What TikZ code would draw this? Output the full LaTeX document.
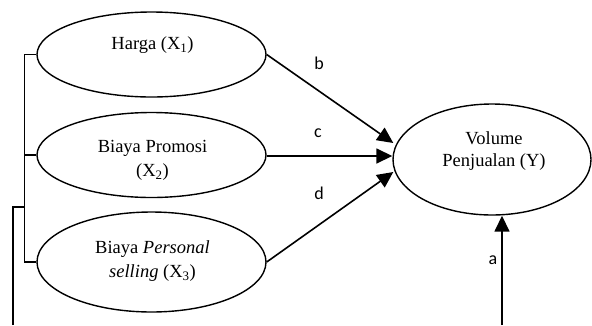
\documentclass[tikz,border=0pt]{standalone}
\usepackage{fontspec}
\setmainfont{Liberation Serif}
\newfontfamily\lblfont{Carlito}
\usetikzlibrary{shapes.geometric,arrows.meta,calc}
\begin{document}
\begin{tikzpicture}[x=1pt,y=-1pt,
  conn/.style={line width=1.6pt},
  var/.style={draw, ellipse, line width=1.4pt, inner sep=0pt, minimum width=229pt, minimum height=85pt},
  txt/.style={font=\fontsize{18.5}{24}\selectfont, align=center, inner sep=0pt},
  lbl/.style={font=\lblfont\fontsize{18}{20}\selectfont, inner sep=0pt},
  arr/.style={conn, -{Triangle[length=16pt,width=15pt]}}]
\useasboundingbox (0,0) rectangle (592,325);
% ellipses
\node[var] (X1) at (151.5,54.5) {};
\node[var] (X2) at (151.5,155) {};
\node[var, minimum height=100pt] (X3) at (151.5,262) {};
\node[var, minimum width=198pt, minimum height=111pt] (Y) at (492,159.5) {};
% texts
\node[txt] (tX1) at (152.5,45) {Harga (X\textsubscript{1})};
\node[txt] (tX2) at (152.5,160.5) {Biaya Promosi\\(X\textsubscript{2})};
\node[txt] (tX3) at (152.5,261.5) {Biaya \textit{Personal}\\\textit{selling} (X\textsubscript{3})};
\node[txt, font=\fontsize{18.5}{22}\selectfont] (tY) at (494,151) {Volume\\Penjualan (Y)};
% bracket on the left
\draw[conn] (X1.west) -- ++(-12,0) coordinate (j1) |- (X3.west);
\draw[conn] (X2.west) -- (X2.west -| j1);
\coordinate (j2) at (25,207);
\coordinate (lbot) at (13,325);
\draw[conn] (lbot) |- (j2);
% arrows to Y
\coordinate (tb) at ($(Y.west)+(1,-16.5)$);
\coordinate (tc) at ($(Y.west)+(0,-3.5)$);
\coordinate (td) at ($(Y.west)+(1,12.5)$);
\draw[arr] (X1.east) -- (tb);
\draw[arr] (X2.east |- tc) -- (tc);
\draw[arr] (X3.east) -- (td);
\coordinate (abot) at (502,325);
\draw[arr] (abot) -- (abot |- Y.south);
% labels
\node[lbl] (lb) at (319,63) {b};
\node[lbl] (lc) at (318,133) {c};
\node[lbl] (ld) at (319,193) {d};
\node[lbl] (la) at (493,260) {a};
\end{tikzpicture}
\end{document}
